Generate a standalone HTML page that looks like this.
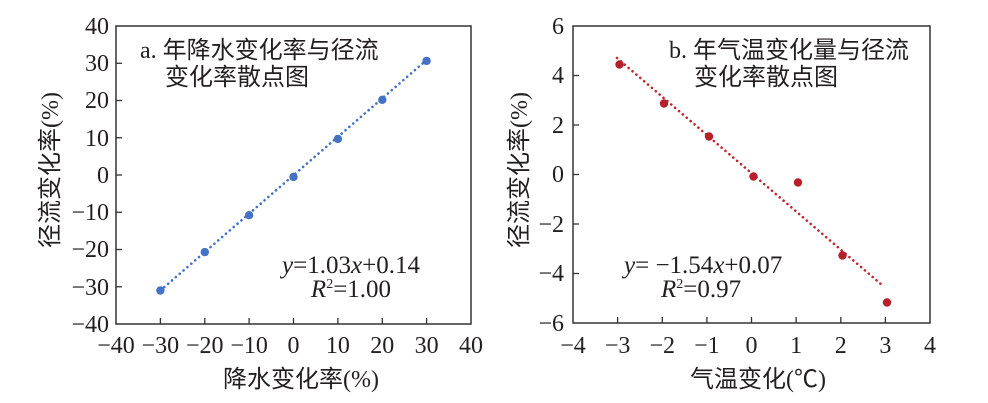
<!DOCTYPE html>
<html><head><meta charset="utf-8"><style>
html,body{margin:0;padding:0;background:#fff;}
svg{display:block;}
text{font-family:"Liberation Serif","Noto Serif CJK SC",serif;fill:#231f20;}
.cjk{font-family:"Liberation Serif","Noto Sans CJK SC",sans-serif;}
.t{font-size:24px;}
</style></head><body>
<svg width="988" height="403" viewBox="0 0 988 403" xmlns="http://www.w3.org/2000/svg">
<!-- Left plot -->
<rect x="116" y="26" width="355" height="298" fill="none" stroke="#333" stroke-width="1.5"/>
<g stroke="#333" stroke-width="1.3">
<line x1="160.4" y1="324" x2="160.4" y2="318"/><line x1="204.8" y1="324" x2="204.8" y2="318"/><line x1="249.1" y1="324" x2="249.1" y2="318"/><line x1="293.5" y1="324" x2="293.5" y2="318"/><line x1="337.9" y1="324" x2="337.9" y2="318"/><line x1="382.3" y1="324" x2="382.3" y2="318"/><line x1="426.6" y1="324" x2="426.6" y2="318"/>
<line x1="116" y1="63.25" x2="122" y2="63.25"/><line x1="116" y1="100.5" x2="122" y2="100.5"/><line x1="116" y1="137.75" x2="122" y2="137.75"/><line x1="116" y1="175" x2="122" y2="175"/><line x1="116" y1="212.25" x2="122" y2="212.25"/><line x1="116" y1="249.5" x2="122" y2="249.5"/><line x1="116" y1="286.75" x2="122" y2="286.75"/>
</g>
<g class="t" text-anchor="end">
<text x="109" y="34">40</text><text x="109" y="71">30</text><text x="109" y="108">20</text><text x="109" y="146">10</text><text x="109" y="183">0</text><text x="109" y="220">−10</text><text x="109" y="257">−20</text><text x="109" y="295">−30</text><text x="109" y="332">−40</text>
</g>
<g class="t" text-anchor="middle">
<text x="116" y="353">−40</text><text x="160.4" y="353">−30</text><text x="204.8" y="353">−20</text><text x="249.1" y="353">−10</text><text x="293.5" y="353">0</text><text x="337.9" y="353">10</text><text x="382.3" y="353">20</text><text x="426.6" y="353">30</text><text x="471" y="353">40</text>
</g>
<line x1="160.4" y1="290.5" x2="426.6" y2="60" stroke="#4472c4" stroke-width="2.6" stroke-dasharray="0.1 5" stroke-linecap="round"/>
<g fill="#4472c4">
<circle cx="160.4" cy="290.5" r="4.2"/><circle cx="204.8" cy="252.1" r="4.2"/><circle cx="249.1" cy="215.2" r="4.2"/><circle cx="293.5" cy="176.9" r="4.2"/><circle cx="337.9" cy="138.9" r="4.2"/><circle cx="382.3" cy="99.8" r="4.2"/><circle cx="426.6" cy="60.9" r="4.2"/>
</g>
<text class="cjk" x="140" y="58" font-size="24">a. 年降水变化率与径流</text>
<text class="cjk" x="165" y="85" font-size="24">变化率散点图</text>
<text x="351" y="273" font-size="25" text-anchor="middle"><tspan font-style="italic">y</tspan>=1.03<tspan font-style="italic">x</tspan>+0.14</text>
<text x="351" y="297" font-size="25" text-anchor="middle"><tspan font-style="italic">R</tspan><tspan font-size="14" dy="-9">2</tspan><tspan dy="9">=1.00</tspan></text>
<text class="cjk" x="301" y="387" font-size="24" text-anchor="middle">降水变化率(%)</text>
<text class="cjk" x="0" y="0" font-size="24" text-anchor="middle" transform="translate(58,170) rotate(-90)">径流变化率(%)</text>

<!-- Right plot -->
<rect x="573" y="26" width="357" height="297" fill="none" stroke="#333" stroke-width="1.5"/>
<g stroke="#333" stroke-width="1.3">
<line x1="617.6" y1="323" x2="617.6" y2="317"/><line x1="662.3" y1="323" x2="662.3" y2="317"/><line x1="706.9" y1="323" x2="706.9" y2="317"/><line x1="751.5" y1="323" x2="751.5" y2="317"/><line x1="796.1" y1="323" x2="796.1" y2="317"/><line x1="840.8" y1="323" x2="840.8" y2="317"/><line x1="885.4" y1="323" x2="885.4" y2="317"/>
<line x1="573" y1="75.5" x2="579" y2="75.5"/><line x1="573" y1="125" x2="579" y2="125"/><line x1="573" y1="174.5" x2="579" y2="174.5"/><line x1="573" y1="224" x2="579" y2="224"/><line x1="573" y1="273.5" x2="579" y2="273.5"/>
</g>
<g class="t" text-anchor="end">
<text x="564" y="34">6</text><text x="564" y="83">4</text><text x="564" y="133">2</text><text x="564" y="182">0</text><text x="564" y="232">−2</text><text x="564" y="281">−4</text><text x="564" y="331">−6</text>
</g>
<g class="t" text-anchor="middle">
<text x="573" y="353">−4</text><text x="617.6" y="353">−3</text><text x="662.3" y="353">−2</text><text x="706.9" y="353">−1</text><text x="751.5" y="353">0</text><text x="796.1" y="353">1</text><text x="840.8" y="353">2</text><text x="885.4" y="353">3</text><text x="930" y="353">4</text>
</g>
<line x1="617" y1="58" x2="882" y2="285" stroke="#c0282d" stroke-width="2.6" stroke-dasharray="0.1 5" stroke-linecap="round"/>
<g fill="#b5202a">
<circle cx="619.5" cy="64.5" r="4.2"/><circle cx="664" cy="103.5" r="4.2"/><circle cx="709" cy="136.5" r="4.2"/><circle cx="753.5" cy="176.5" r="4.2"/><circle cx="798" cy="182.5" r="4.2"/><circle cx="842.5" cy="255.5" r="4.2"/><circle cx="887" cy="302.5" r="4.2"/>
</g>
<text class="cjk" x="669" y="58" font-size="24">b. 年气温变化量与径流</text>
<text class="cjk" x="694" y="85" font-size="24">变化率散点图</text>
<text x="624" y="273" font-size="25"><tspan font-style="italic">y</tspan>= −1.54<tspan font-style="italic">x</tspan>+0.07</text>
<text x="661" y="297" font-size="25"><tspan font-style="italic">R</tspan><tspan font-size="14" dy="-9">2</tspan><tspan dy="9">=0.97</tspan></text>
<text class="cjk" x="758" y="387" font-size="24" text-anchor="middle">气温变化(℃)</text>
<text class="cjk" x="0" y="0" font-size="24" text-anchor="middle" transform="translate(527,170) rotate(-90)">径流变化率(%)</text>
</svg>
</body></html>
